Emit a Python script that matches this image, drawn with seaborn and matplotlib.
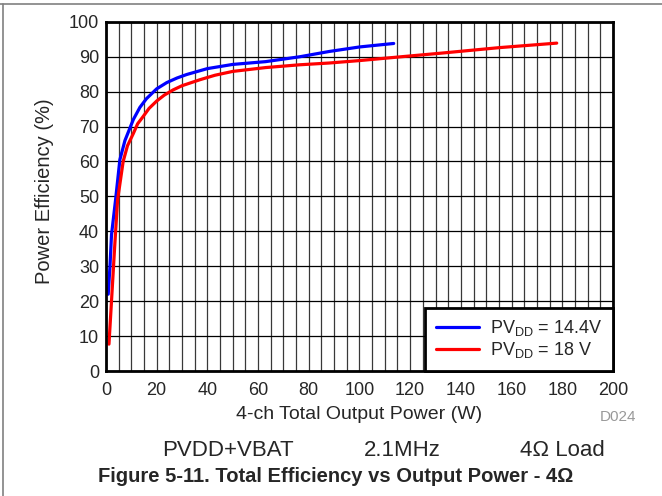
import numpy as np
import matplotlib
matplotlib.use("Agg")
import matplotlib.pyplot as plt
import seaborn as sns
import pandas as pd
from matplotlib.lines import Line2D

# values
blue_x = [0.9, 1.6, 2.2, 3.8, 5.5, 7.5, 10.8, 13.4, 16, 20, 24, 28, 31.8, 40, 50, 63, 76.5, 88, 100, 113.5]
blue_y = [22, 30, 39, 49, 60.5, 66, 72, 75.5, 78.0, 80.8, 82.6, 83.9, 84.9, 86.6, 87.8, 88.6, 90, 91.5, 92.8, 93.8]
red_x = [1.2, 2.2, 3.4, 4.6, 6.8, 8.5, 10.8, 12.5, 14.7, 17, 20, 23, 26.5, 30, 37, 43, 50, 63, 76.5, 88,
         100, 115, 131.8, 155, 177.8]
red_y = [7.7, 20, 35, 49, 60, 64.5, 68, 70.8, 72.9, 75.2, 77.3, 79.0, 80.5, 81.7, 83.4, 84.7, 85.8, 86.9, 87.7, 88.2,
         88.9, 89.9, 91, 92.6, 93.9]
series_names = [r"PV$_{\mathrm{DD}}$ = 14.4V", r"PV$_{\mathrm{DD}}$ = 18 V"]
x_ticks = list(range(0, 201, 20))
y_ticks = list(range(0, 101, 10))

sns.set_style("white")
plt.rcParams["font.family"] = ["Liberation Sans", "DejaVu Sans"]
plt.rcParams["mathtext.fontset"] = "custom"
plt.rcParams["mathtext.rm"] = "Liberation Sans"

df = pd.concat([
    pd.DataFrame({"power": blue_x, "eff": blue_y, "series": series_names[0]}),
    pd.DataFrame({"power": red_x, "eff": red_y, "series": series_names[1]}),
])

fig = plt.figure(figsize=(6.62, 4.96), dpi=100)
ax = fig.add_axes([0.160, 0.252, 0.766, 0.704])

sns.lineplot(data=df, x="power", y="eff", hue="series", sort=False,
             palette=["#0000ff", "#ff0000"], linewidth=2.3, ax=ax)

ax.set_xlim(0, 200)
ax.set_ylim(0, 100)
ax.set_xticks(x_ticks)
ax.set_yticks(y_ticks)
ax.set_xticks(np.arange(0, 201, 5), minor=True)
ax.grid(True, which="both", axis="x", color="#383838", linewidth=0.9)
ax.grid(True, which="major", axis="y", color="black", linewidth=0.9)
ax.set_axisbelow(True)
ax.tick_params(which="both", length=0)
ax.tick_params(axis="x", labelsize=13, pad=8)
ax.tick_params(axis="y", labelsize=13, pad=5)
for s in ax.spines.values():
    s.set_color("black")
    s.set_linewidth(2)
    s.set_visible(True)

ax.set_xlabel("4-ch Total Output Power (W)", fontsize=14, labelpad=5)
ax.set_ylabel("Power Efficiency (%)", fontsize=14.5)
ax.yaxis.set_label_coords(-0.102, 0.514)

leg = ax.legend(loc="lower right", borderaxespad=0, fontsize=13, frameon=True,
                fancybox=False, handlelength=2.4, handletextpad=0.6,
                labelspacing=0.1, borderpad=0.6)
leg.get_frame().set_edgecolor("black")
leg.get_frame().set_linewidth(2)
leg.get_frame().set_alpha(1)

fig.text(618 / 662, 1 - 417 / 496, "D024", color="#999999", fontsize=11,
         ha="center", va="center")
fig.text(228 / 662, 1 - 450 / 496, "PVDD+VBAT", fontsize=16, ha="center", va="center")
fig.text(402 / 662, 1 - 450 / 496, "2.1MHz", fontsize=16, ha="center", va="center")
fig.text(562 / 662, 1 - 450 / 496, "4\u03a9 Load", fontsize=16, ha="center", va="center")
fig.text(336 / 662, 1 - 477 / 496, "Figure 5-11. Total Efficiency vs Output Power - 4\u03a9",
         fontsize=14.5, fontweight="bold", ha="center", va="center")

# page frame lines
fig.add_artist(Line2D([0, 1], [1 - 4 / 496, 1 - 4 / 496], color="#808080", lw=1.2,
                      transform=fig.transFigure))
fig.add_artist(Line2D([3 / 662, 3 / 662], [0, 1 - 4 / 496], color="#808080", lw=1.2,
                      transform=fig.transFigure))

fig.savefig("out.png", dpi=100)
